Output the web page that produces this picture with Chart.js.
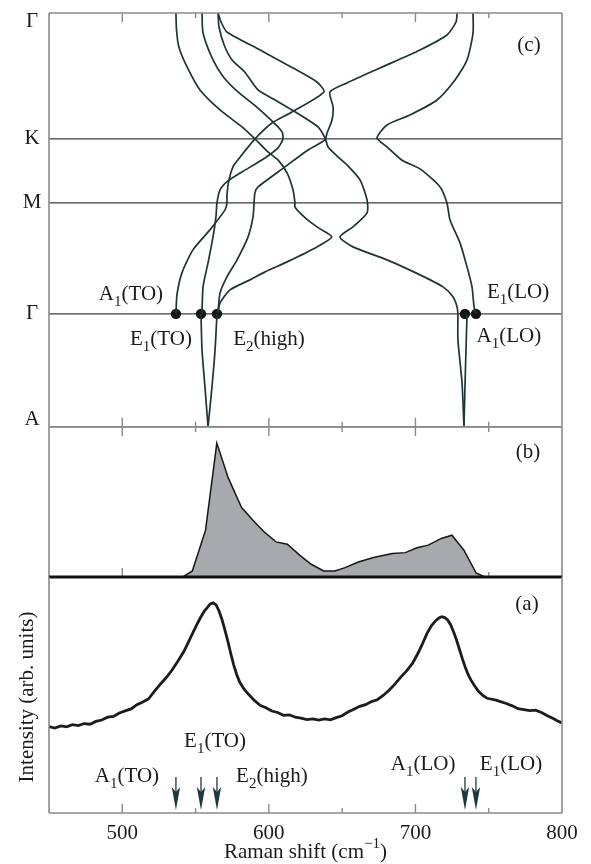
<!DOCTYPE html>
<html>
<head>
<meta charset="utf-8">
<title>Phonon dispersion, DOS and Raman spectrum</title>
<script src="https://cdn.jsdelivr.net/npm/chart.js@4.4.1/dist/chart.umd.min.js"></script>
<style>
  html, body { margin: 0; padding: 0; background: #fff; }
  #fig { position: relative; width: 591px; height: 864px; overflow: hidden; background: #fff; }
  #fig canvas { position: absolute; left: 0; }
</style>
</head>
<body>
<div id="fig">
  <canvas id="chart-c" width="591" height="432" style="top:0"></canvas>
  <canvas id="chart-b" width="591" height="170" style="top:419px"></canvas>
  <canvas id="chart-a" width="591" height="294" style="top:570px"></canvas>
</div>
<script>
"use strict";

// ── Data ──────────────────────────────────────────────────────────────
// shared frequency axis (cm-1)
const xTickValues = [500, 600, 700, 800];
const frameTicks  = [500, 550, 600, 650, 700, 750];

// (c) dispersion: path coordinate, A = 0 ... Γ(top) = 414
const pathTicks  = [0, 113, 224, 288, 414];
const pathLabels = ["A", "Γ", "M", "K", "Γ"];
const pathLines  = [113, 224, 288];

// branches as [frequency, path] pairs
const branchQ = [[536.6,414],[537.0,397],[538.6,380],[544.2,360],[553.0,337],[566.7,317],[581.7,300],
  [590.5,288],[599.4,275],[606.2,267],[612.4,254],[616.5,237],[617.8,224],[617.8,220],[621.2,214],
  [628.1,205],[634.9,198],[642.9,190],[632.8,180],[612.4,165],[597.4,155],[587.1,147],[573.5,137],
  [566.7,124],[565.3,114]];
const branchP = [[554.4,414],[555.1,394],[561.9,367],[569.0,350],[578.9,335],[590.0,322],[602.8,305],
  [609.0,295],[609.6,288],[606.2,279],[597.4,269],[581.7,255],[572.1,246],[566.7,237],[564.6,224],
  [563.9,210],[561.9,190],[558.5,164],[555.1,140],[554.4,114]];
const branchS = [[565.3,414],[567.4,405],[571.4,395],[594.0,377],[616.5,359],[632.8,345],[637.6,335],
  [615.8,315],[602.1,304],[590.5,288],[578.9,267],[575.5,260],[572.8,247],[571.4,232],[571.4,224],
  [570.1,217],[559.8,197],[548.2,177],[540.7,154],[537.3,132],[536.6,113]];
const branchR = [[565.3,414],[566.0,400],[569.5,382],[574.9,367],[583.5,355],[592.6,337],[604.2,327],
  [615.8,317],[624.7,309],[633.5,300],[638.3,289],[640.4,280],[647.2,270],[653.3,262],[662.2,247],
  [667.0,227],[667.0,214],[657.4,200],[648.5,190],[657.4,180],[680.6,167],[703.1,152],[718.8,140],
  [725.6,130],[728.4,120],[729.0,113]];
const branchT = [[728.4,414],[727.7,405],[721.5,392],[703.1,377],[675.8,359],[653.3,344],[641.7,335],
  [643.8,320],[643.1,307],[639.7,294],[638.3,287],[626.7,277],[611.0,260],[592.6,240],[590.5,234],
  [589.9,224],[589.2,210],[585.8,190],[578.3,167],[571.4,150],[566.7,134],[565.3,114]];
const branchU = [[739.3,414],[739.3,394],[735.2,367],[727.0,347],[714.7,327],[696.3,312],[680.6,302],
  [673.8,289],[680.6,280],[690.6,267],[703.1,258],[716.8,240],[721.5,224],[723.6,207],[730.4,184],
  [735.2,160],[738.6,140],[740.0,120],[741.3,113]];
// Γ – A segments
const lensTO1 = [[553.7,113],[554.4,77],[556.4,40],[558.5,0]];
const lensTO2 = [[564.6,113],[563.3,77],[561.2,40],[558.5,0]];
const lensLO1 = [[729.0,113],[729.0,87],[731.8,44],[733.1,0]];
const lensLO2 = [[735.2,113],[734.5,77],[733.8,40],[733.1,0]];

// Raman-active modes at Γ
const modeNames = ["A_1(TO)", "E_1(TO)", "E_2(high)", "A_1(LO)", "E_1(LO)"];
const modeFreq  = [536.6, 553.7, 564.6, 733.8, 741.3];

// (b) phonon density of states
const dosFreq  = [541.4, 547.8, 556.8, 564.5, 572.3, 581.3, 589.0, 596.7, 604.9, 612.6, 621.2, 628.9, 637.4,
  645.1, 652.0, 661.1, 671.4, 684.2, 693.2, 701.0, 708.7, 717.7, 724.9, 733.1, 741.4, 747.3];
const dosValue = [0, 0.045, 0.35, 1.0, 0.74, 0.52, 0.425, 0.338, 0.262, 0.245, 0.162, 0.095, 0.045,
  0.045, 0.07, 0.112, 0.145, 0.175, 0.182, 0.218, 0.238, 0.288, 0.312, 0.2, 0.03, 0];

// (a) Raman spectrum
const ramanShift = [450,454,458,462,466,470,474,478,482,486,490,494,498,502,506,510,514,518,522,526,530,534,
  538,542,546,550,553,556,558,560,562,564,566,568,570,572,574,576,578,580,583,586,590,594,598,602,606,610,
  614,618,622,626,630,634,638,642,646,650,654,658,662,666,670,674,678,682,686,690,694,698,702,705,708,711,
  714,716,718,720,722,724,726,728,730,732,734,736,738,740,743,746,749,752,755,758,762,766,770,774,778,782,
  786,790,794,797,800];
const ramanIntensity = [36.6,36.0,36.9,36.5,37.4,37.0,37.9,37.6,38.8,39.4,40.6,40.9,42.4,43.3,44.1,45.9,47.0,
  48.4,51.6,54.6,57.4,60.6,64.4,68.4,73.6,78.8,82.4,85.6,87.0,88.6,89.1,88.2,85.6,82.0,77.6,72.8,67.6,62.8,
  58.8,55.6,52.6,50.4,47.8,45.6,44.6,43.2,42.6,41.4,41.6,40.6,40.2,39.6,39.9,39.4,39.9,39.5,40.4,41.2,42.8,
  44.0,45.2,45.9,47.2,48.0,49.8,52.0,54.6,57.6,60.2,63.4,68.0,72.0,76.2,79.4,81.6,82.6,83.2,82.8,81.8,79.8,
  76.8,73.4,69.4,65.4,61.8,58.6,56.2,54.2,51.6,49.8,48.6,48.2,47.8,47.2,46.4,45.4,44.2,43.8,43.4,43.6,42.6,
  41.2,40.0,39.0,38.2];

// ── Styles ────────────────────────────────────────────────────────────
const SERIF = "'Liberation Serif', 'DejaVu Serif', 'Times New Roman', serif";
const FS    = 21;
const INK   = "#1f3436";
const TEXT  = "#1b1b1b";
const FRAME = "#8a8a8a";
const LEVEL = "#3c3c3c";
const PAD   = { left: 49, right: 29 };

const $ = id => document.getElementById(id);
const pairs = arr => arr.map(([x, y]) => ({ x, y }));
const zip = (xs, ys) => xs.map((x, i) => ({ x, y: ys[i] }));

// ── Rich text (sub/superscripts) ─────────────────────────────────────
function parseRich(str) {
  const parts = [];
  const re = /([_^])\{([^}]*)\}|([_^])(.)|([^_^]+)/gu;
  let m;
  while ((m = re.exec(str))) {
    if (m[5]) parts.push({ t: m[5], k: 0 });
    else if (m[1]) parts.push({ t: m[2], k: m[1] === "_" ? -1 : 1 });
    else parts.push({ t: m[4], k: m[3] === "_" ? -1 : 1 });
  }
  return parts;
}

function drawRich(ctx, str, x, y, size = FS) {
  const parts = parseRich(str);
  const small = Math.round(size * 0.7);
  const fontOf = k => `${k ? small : size}px ${SERIF}`;
  let w = 0;
  parts.forEach(p => { ctx.font = fontOf(p.k); p.w = ctx.measureText(p.t).width; w += p.w; });
  let cx = x - w / 2;
  ctx.textAlign = "left";
  ctx.textBaseline = "middle";
  ctx.fillStyle = TEXT;
  parts.forEach(p => {
    ctx.font = fontOf(p.k);
    const dy = p.k < 0 ? size * 0.33 : p.k > 0 ? -size * 0.36 : 0;
    ctx.fillText(p.t, cx, y + dy);
    cx += p.w;
  });
}

function seg(ctx, x0, y0, x1, y1) {
  ctx.beginPath();
  ctx.moveTo(x0, y0);
  ctx.lineTo(x1, y1);
  ctx.stroke();
}

// ── Panel plugin: frame, inward ticks, level lines, labels, arrows ──
const figurePlugin = {
  id: "figure",
  beforeDatasetsDraw(chart, _args, o) {
    const { ctx, chartArea: a, scales: { x, y } } = chart;
    ctx.save();
    ctx.strokeStyle = LEVEL;
    ctx.lineWidth = 1.2;
    (o.levels || []).forEach(v => {
      const py = y.getPixelForValue(v);
      seg(ctx, a.left, py, a.right, py);
    });
    ctx.strokeStyle = FRAME;
    ctx.lineWidth = 1.4;
    frameTicks.forEach(v => {
      const px = x.getPixelForValue(v);
      const len = v % 100 === 0 ? 9 : 5;
      if (o.ticksTop) seg(ctx, px, a.top, px, a.top + len);
      if (o.ticksBottom) seg(ctx, px, a.bottom - len, px, a.bottom);
    });
    ctx.restore();
  },
  afterDatasetsDraw(chart, _args, o) {
    const { ctx, chartArea: a, scales: { x, y } } = chart;
    ctx.save();
    ctx.strokeStyle = FRAME;
    ctx.lineWidth = 1.6;
    seg(ctx, a.left, a.top, a.left, a.bottom);
    seg(ctx, a.right, a.top, a.right, a.bottom);
    if (o.frameTop) seg(ctx, a.left, a.top, a.right, a.top);
    if (o.frameBottom) seg(ctx, a.left, a.bottom, a.right, a.bottom);
    if (o.baseline) {
      ctx.strokeStyle = "#111";
      ctx.lineWidth = 3;
      seg(ctx, a.left, a.bottom, a.right, a.bottom);
    }

    // mode arrows (panel a)
    if (o.arrows) {
      ctx.strokeStyle = "#1d3a3e";
      ctx.fillStyle = "#1d3a3e";
      ctx.lineWidth = 1.3;
      o.arrows.freq.forEach(f => {
        const px = x.getPixelForValue(f);
        const top = y.getPixelForValue(o.arrows.from);
        const tip = y.getPixelForValue(o.arrows.to);
        seg(ctx, px, top, px, tip - 12);
        ctx.beginPath();
        ctx.moveTo(px, tip);
        ctx.lineTo(px - 4.2, tip - 23);
        ctx.lineTo(px, tip - 18);
        ctx.lineTo(px + 4.2, tip - 23);
        ctx.closePath();
        ctx.fill();
      });
    }

    (o.labels || []).forEach(l =>
      drawRich(ctx, l.text, x.getPixelForValue(l.f), y.getPixelForValue(l.v)));

    // path labels on the left (panel c)
    if (o.side) {
      o.side.values.forEach((v, i) => {
        let py = y.getPixelForValue(v);
        py = Math.min(Math.max(py, a.top + 8), a.bottom - 7);
        drawRich(ctx, o.side.labels[i], 32, py);
      });
    }
    if (o.xTitle) drawRich(ctx, o.xTitle, (a.left + a.right) / 2, a.bottom + 39);
    if (o.yTitle) {
      ctx.translate(27, (a.top + a.bottom) / 2 + 2);
      ctx.rotate(-Math.PI / 2);
      drawRich(ctx, o.yTitle, 0, 0);
    }
    ctx.restore();
  },
};

const baseOptions = (padding, yMin, yMax, fig) => ({
  responsive: false,
  animation: false,
  events: [],
  layout: { padding },
  plugins: { legend: { display: false }, tooltip: { enabled: false }, figure: fig },
  scales: {
    x: { type: "linear", min: 450, max: 800, display: false },
    y: { type: "linear", min: yMin, max: yMax, display: false },
  },
});

const branchSet = pts => ({
  data: pairs(pts),
  showLine: true,
  borderColor: INK,
  borderWidth: 1.7,
  pointRadius: 0,
  tension: 0.22,
  fill: false,
});

// ── (c) dispersion ───────────────────────────────────────────────────
new Chart($("chart-c"), {
  type: "scatter",
  data: {
    datasets: [
      ...[branchQ, branchP, branchS, branchR, branchT, branchU,
          lensTO1, lensTO2, lensLO1, lensLO2].map(branchSet),
      {
        data: modeFreq.map(f => ({ x: f, y: pathTicks[1] })),
        pointRadius: 5.2,
        pointBackgroundColor: "#151515",
        pointBorderWidth: 0,
        showLine: false,
      },
    ],
  },
  options: baseOptions({ ...PAD, top: 13, bottom: 5 }, 0, 414, {
    levels: pathLines,
    ticksTop: true,
    ticksBottom: true,
    frameTop: true,
    frameBottom: true,
    side: { values: pathTicks, labels: pathLabels },
    labels: [
      { text: modeNames[0], f: 505.9, v: 132 },
      { text: modeNames[1], f: 526.4, v: 87 },
      { text: modeNames[2], f: 600.1, v: 87 },
      { text: modeNames[4], f: 770.0, v: 134 },
      { text: modeNames[3], f: 763.8, v: 90 },
      { text: "(c)", f: 777.5, v: 382 },
    ],
  }),
  plugins: [figurePlugin],
});

// ── (b) density of states ────────────────────────────────────────────
new Chart($("chart-b"), {
  type: "line",
  data: {
    datasets: [{
      data: zip(dosFreq, dosValue),
      borderColor: "#161616",
      borderWidth: 1.5,
      backgroundColor: "#a8a9ac",
      fill: "origin",
      pointRadius: 0,
      tension: 0,
    }],
  },
  options: baseOptions({ ...PAD, top: 8, bottom: 12 }, 0, 1.12, {
    ticksTop: true,
    ticksBottom: true,
    frameTop: true,
    baseline: true,
    labels: [{ text: "(b)", f: 776.8, v: 0.93 }],
  }),
  plugins: [figurePlugin],
});

// ── (a) Raman spectrum ───────────────────────────────────────────────
const optsA = baseOptions({ ...PAD, top: 7, bottom: 0 }, 0, 100, {
  ticksBottom: true,
  frameBottom: true,
  arrows: { freq: modeFreq, from: 15.3, to: 1.3 },
  labels: [
    { text: modeNames[1], f: 563.3, v: 30.2 },
    { text: modeNames[0], f: 503.2, v: 15.3 },
    { text: modeNames[2], f: 602.1, v: 15.3 },
    { text: modeNames[3], f: 705.2, v: 20.4 },
    { text: modeNames[4], f: 765.2, v: 20.4 },
    { text: "(a)", f: 776.1, v: 88.5 },
  ],
  xTitle: "Raman shift (cm^{−1})",
  yTitle: "Intensity (arb. units)",
});
optsA.scales.x = {
  type: "linear",
  min: 450,
  max: 800,
  afterBuildTicks: s => { s.ticks = xTickValues.map(value => ({ value })); },
  afterFit: s => { s.height = 51; },
  grid: { display: false, drawTicks: false },
  border: { display: false },
  ticks: { color: TEXT, font: { family: SERIF, size: FS }, padding: 8, maxRotation: 0, autoSkip: false },
};

new Chart($("chart-a"), {
  type: "line",
  data: {
    datasets: [{
      data: zip(ramanShift, ramanIntensity),
      borderColor: "#1c1c1c",
      borderWidth: 2.8,
      pointRadius: 0,
      tension: 0,
      fill: false,
    }],
  },
  options: optsA,
  plugins: [figurePlugin],
});
</script>
</body>
</html>
